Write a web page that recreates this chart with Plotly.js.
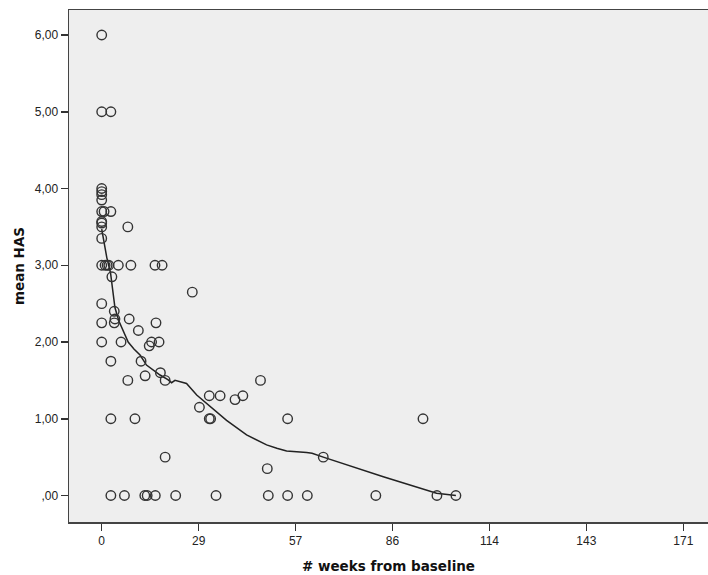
<!DOCTYPE html>
<html>
<head>
<meta charset="utf-8">
<script src="https://cdn.plot.ly/plotly-3.0.1.min.js"></script>
<style>html,body{margin:0;padding:0;background:#fff;}#chart{width:708px;height:575px;}</style>
</head>
<body>
<div id="chart"></div>
<script>
// Observed points: weeks from baseline and mean HAS
const weeks = [
  0,0,0,0,0,0,0,0,0,0,0,0,0,0,0,
  0.7,1.0,1.6,2.1,
  2.7,2.7,2.7,2.7,2.7,
  3.0,3.7,3.9,3.7,4.9,5.7,6.7,
  7.7,7.7,8.1,8.6,9.8,10.8,11.6,12.7,12.8,13.4,14.0,14.7,
  15.7,15.8,16.0,16.9,17.3,17.8,18.7,18.7,21.8,
  26.7,28.8,31.7,31.7,32.1,33.7,34.9,39.3,41.6,46.8,48.8,49.1,
  54.8,54.8,60.6,65.3,80.8,94.7,98.8,104.4
];
const meanHAS = [
  6.0,5.0,4.0,3.96,3.92,3.85,3.7,3.57,3.55,3.5,3.35,3.0,2.5,2.25,2.0,
  3.7,3.0,3.0,3.0,
  5.0,3.7,1.75,1.0,0.0,
  2.85,2.40,2.30,2.25,3.0,2.0,0.0,
  3.5,1.5,2.30,3.0,1.0,2.15,1.75,0.0,1.56,0.0,1.95,2.0,
  3.0,0.0,2.25,2.0,1.60,3.0,1.50,0.50,0.0,
  2.65,1.15,1.30,1.0,1.0,0.0,1.30,1.25,1.30,1.50,0.35,0.0,
  1.0,0.0,0.0,0.50,0.0,1.0,0.0,0.0
];
// Fit line
const fitWeeks = [0,0.5,1.5,2.6,3.9,5.0,6.2,7.8,9.5,11.3,13.2,15.0,17.2,19.5,20.6,21.6,22.5,25.0,28.0,31.9,36.8,42.7,48.6,51.6,54.5,60.4,62.0,65.3,83.0,98.7,104.4];
const fitHAS  = [3.47,3.33,3.10,2.90,2.45,2.28,2.16,2.00,1.91,1.83,1.70,1.64,1.57,1.51,1.47,1.50,1.49,1.46,1.31,1.16,0.98,0.79,0.66,0.615,0.58,0.56,0.55,0.50,0.245,0.03,0.0];

const xTickVals = [0,28.571,57.143,85.714,114.286,142.857,171.429];
const xTickText = ["0","29","57","86","114","143","171"];
const yTickVals = [0,1,2,3,4,5,6];
const yTickText = [",00","1,00","2,00","3,00","4,00","5,00","6,00"];

const traces = [
  {
    x: fitWeeks, y: fitHAS, type: 'scatter', mode: 'lines',
    line: {color: '#222', width: 1.5},
    hoverinfo: 'skip', showlegend: false
  },
  {
    x: weeks, y: meanHAS, type: 'scatter', mode: 'markers',
    marker: {symbol: 'circle-open', size: 9.5, color: '#333', line: {color: '#333', width: 1.4}},
    showlegend: false
  }
];

const layout = {
  width: 708, height: 575,
  margin: {l: 69, r: 0, t: 10, b: 53},
  paper_bgcolor: '#ffffff',
  plot_bgcolor: '#eeeeee',
  font: {family: '"Liberation Sans", Arial, sans-serif', size: 12, color: '#222'},
  xaxis: {
    range: [-9.64, 178.7],
    tickmode: 'array', tickvals: xTickVals, ticktext: xTickText,
    ticks: 'outside', ticklen: 7, tickwidth: 1.5, tickcolor: '#333',
    showgrid: false, zeroline: false,
    showline: true, linecolor: '#444', linewidth: 1.5, mirror: true,
    tickfont: {family: '"Liberation Sans", Arial, sans-serif', size: 12, color: '#222'},
    title: {text: '# weeks from baseline', standoff: 14,
            font: {family: '"DejaVu Sans", Verdana, sans-serif', size: 13.5, color: '#111', weight: 'bold'}}
  },
  yaxis: {
    range: [-0.345, 6.326],
    tickmode: 'array', tickvals: yTickVals, ticktext: yTickText,
    ticks: 'outside', ticklen: 7, tickwidth: 1.5, tickcolor: '#333',
    showgrid: false, zeroline: false,
    showline: true, linecolor: '#444', linewidth: 1.5, mirror: false,
    tickfont: {family: '"Liberation Sans", Arial, sans-serif', size: 12, color: '#222'},
    title: {text: 'mean HAS', standoff: 7,
            font: {family: '"DejaVu Sans", Verdana, sans-serif', size: 13.5, color: '#111', weight: 'bold'}}
  }
};

Plotly.newPlot('chart', traces, layout, {staticPlot: true, displayModeBar: false});
</script>
</body>
</html>
